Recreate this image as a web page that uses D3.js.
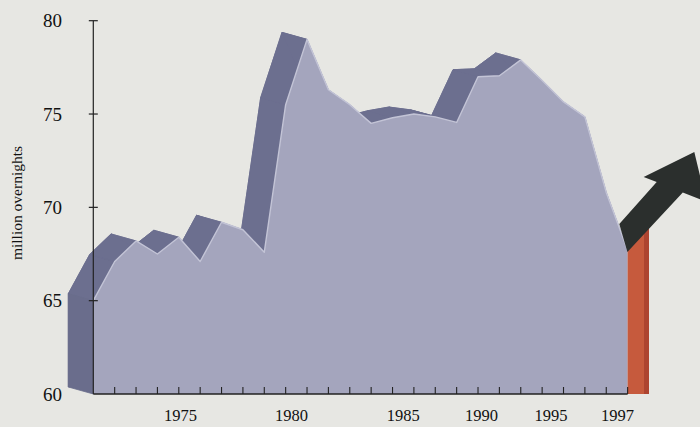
<!DOCTYPE html>
<html>
<head>
<meta charset="utf-8">
<script src="https://cdnjs.cloudflare.com/ajax/libs/d3/7.8.5/d3.min.js"></script>
<style>
    html, body { margin: 0; padding: 0; background: #e7e7e3; }
    svg { display: block; }
    text { font-family: "Liberation Serif", "DejaVu Serif", serif; fill: #111; }
</style>
</head>
<body>
<div class="svg"></div>
<script>
// overnights, one value per tick (index 0 = first year at the axis)
var overnights = [65.0, 67.1, 68.2, 67.5, 68.4, 67.1, 69.2, 68.8, 67.6, 75.5,
    79.0, 76.3, 75.5, 74.5, 74.8, 75.0, 74.85, 74.55, 77.0, 77.05,
    77.9, 76.8, 75.65, 74.85, 70.8, 67.7];
var lastValue = 69.0; // 1997 bar
var yTicks = [60, 65, 70, 75, 80];
var xLabels = ["1975", "1980", "1985", "1990", "1995", "1997"];
var xLabelPos = [4.08, 9.27, 14.5, 18.16, 21.42, 24.53];
// trend arrow outline, in (index, value)
var arrowPts = [[24.99, 67.61], [24.61, 69.11], [26.36, 71.36], [25.75, 71.62],
    [28.12, 72.96], [28.68, 70.3], [27.58, 70.8]];

var width = 700,
    height = 427;

var svg = d3.select(".svg").append("svg")
    .attr("width", width)
    .attr("height", height);

svg.append("rect")
    .attr("width", width)
    .attr("height", height)
    .attr("fill", "#e7e7e3");

var x = d3.scaleLinear()
    .domain([0, 26])
    .range([93.3, 649]);

var y = d3.scaleLinear()
    .domain([60, 80])
    .range([394, 20.7]);

var dx = -25, dy = -7; // depth of the extrusion

var n = overnights.length;
var front = overnights.map(function (v, i) {
    return [x(i), y(v)];
});
var frontPoly = front.concat([[x(n - 1), y(60)], [x(0), y(60)]]);

var shift = function (p) {
    return [p[0] + dx, p[1] + dy];
};

var line = d3.line();
var dark = "#6c6f8f";

// back face
svg.append("path")
    .attr("d", line(frontPoly.map(shift)) + "Z")
    .attr("fill", dark)
    .attr("stroke", dark)
    .attr("stroke-width", 0.8);

// top surfaces
for (var i = 0; i < n - 1; i++) {
    var a = front[i], b = front[i + 1];
    svg.append("path")
        .attr("d", line([a, b, shift(b), shift(a)]) + "Z")
        .attr("fill", dark)
        .attr("stroke", dark)
        .attr("stroke-width", 0.8);
}

// left side
var bl = [x(0), y(60)];
svg.append("path")
    .attr("d", line([front[0], bl, shift(bl), shift(front[0])]) + "Z")
    .attr("fill", "#6a6d8c")
    .attr("stroke", "#6a6d8c")
    .attr("stroke-width", 0.8);

// front face
svg.append("path")
    .attr("d", line(frontPoly) + "Z")
    .attr("fill", "#a4a5bd");

svg.append("path")
    .attr("d", line(front))
    .attr("fill", "none")
    .attr("stroke", "#c3c4d6")
    .attr("stroke-width", 1.4)
    .attr("stroke-linejoin", "round");

// 1997 bar
svg.append("rect")
    .attr("x", x(25))
    .attr("y", y(lastValue))
    .attr("width", x(26) - x(25))
    .attr("height", y(60) - y(lastValue))
    .attr("fill", "#c65a3d");

svg.append("rect")
    .attr("x", x(26) - 5)
    .attr("y", y(lastValue))
    .attr("width", 5)
    .attr("height", y(60) - y(lastValue))
    .attr("fill", "#ad4430");

// arrow
svg.append("path")
    .attr("d", line(arrowPts.map(function (p) {
        return [x(p[0]), y(p[1])];
    })) + "Z")
    .attr("fill", "#2b2f2d");

// axes
var axisColor = "#222";

svg.append("line")
    .attr("x1", x(0)).attr("x2", x(0))
    .attr("y1", y(60)).attr("y2", y(80))
    .attr("stroke", axisColor)
    .attr("stroke-width", 1.2);

svg.selectAll(".ytick")
    .data(yTicks.slice(1))
    .enter().append("line")
    .attr("class", "ytick")
    .attr("x1", x(0) - 4.5).attr("x2", x(0) + 4.5)
    .attr("y1", function (d) { return y(d); })
    .attr("y2", function (d) { return y(d); })
    .attr("stroke", axisColor)
    .attr("stroke-width", 1.2);

svg.selectAll(".ylabel")
    .data(yTicks)
    .enter().append("text")
    .attr("class", "ylabel")
    .attr("x", 62)
    .attr("y", function (d) { return y(d) + 6.5; })
    .attr("text-anchor", "end")
    .attr("font-size", 19)
    .text(function (d) { return d; });

svg.append("line")
    .attr("x1", x(0)).attr("x2", x(25))
    .attr("y1", y(60)).attr("y2", y(60))
    .attr("stroke", axisColor)
    .attr("stroke-width", 1.3);

svg.selectAll(".xtick")
    .data(d3.range(1, 26))
    .enter().append("line")
    .attr("class", "xtick")
    .attr("x1", function (d) { return x(d); })
    .attr("x2", function (d) { return x(d); })
    .attr("y1", y(60))
    .attr("y2", y(60) - 7)
    .attr("stroke", axisColor)
    .attr("stroke-width", 1.1);

svg.selectAll(".xlabel")
    .data(xLabels)
    .enter().append("text")
    .attr("class", "xlabel")
    .attr("x", function (d, i) { return x(xLabelPos[i]); })
    .attr("y", 421)
    .attr("text-anchor", "middle")
    .attr("font-size", 16.5)
    .text(function (d) { return d; });

svg.append("text")
    .attr("transform", "translate(22,203) rotate(-90)")
    .attr("text-anchor", "middle")
    .attr("font-size", 15.5)
    .text("million overnights");
</script>
</body>
</html>
